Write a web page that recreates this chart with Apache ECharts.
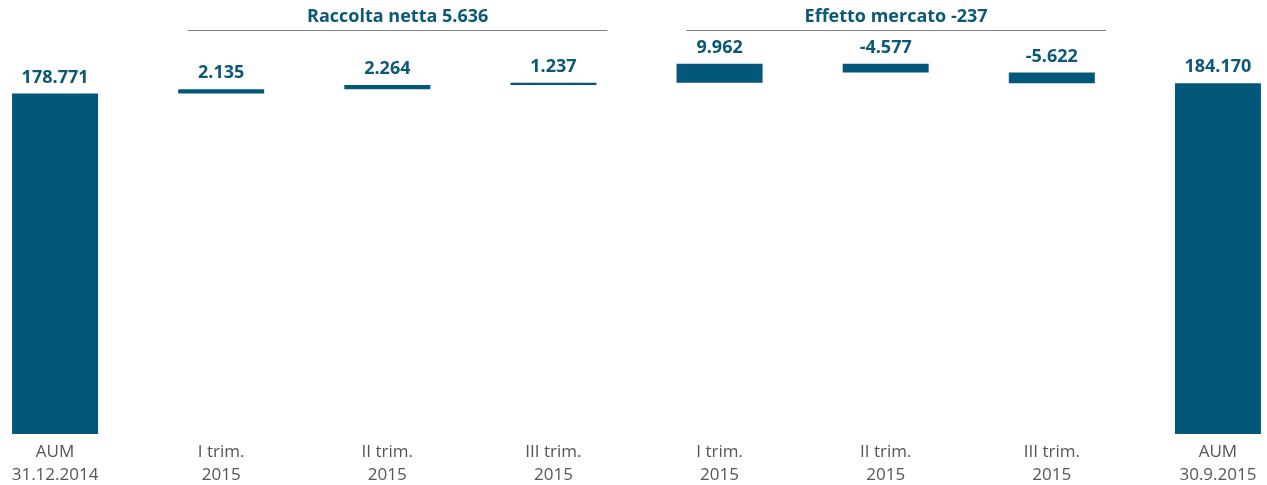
<!DOCTYPE html>
<html>
<head>
<meta charset="utf-8">
<script src="https://cdn.jsdelivr.net/npm/echarts@6/dist/echarts.min.js"></script>
<style>
  html, body { margin: 0; padding: 0; background: #ffffff; overflow: hidden; width: 1267px; height: 485px; }
  /* The outer category bands run slightly past the page edges */
  #chart { position: absolute; left: -28px; top: 0; width: 1329px; height: 485px; }
</style>
</head>
<body>
<div id="chart"></div>
<script>
// AUM bridge: opening stock, quarterly net inflows, quarterly market effect, closing stock
const categories = [
  'AUM\n31.12.2014',
  'I trim.\n2015', 'II trim.\n2015', 'III trim.\n2015',
  'I trim.\n2015', 'II trim.\n2015', 'III trim.\n2015',
  'AUM\n30.9.2015'
];
const aumStart = 178771;
const netInflows = [2135, 2264, 1237];
const marketEffect = [9962, -4577, -5622];
const aumEnd = 184170;
const groupTitles = ['Raccolta netta', 'Effetto mercato'];

const BLUE = '#03587a';
const LABEL_BLUE = '#0b5877';

// Italian number format: dot as thousands separator
function fmt(v) {
  const s = String(Math.abs(v)).replace(/\B(?=(\d{3})+(?!\d))/g, '.');
  return (v < 0 ? '-' : '') + s;
}

// Waterfall table: invisible base + visible segment for each step
const signed = [aumStart, ...netInflows, ...marketEffect, aumEnd];
const isTotal = signed.map((_, i) => i === 0 || i === signed.length - 1);
const base = [];
const visible = [];
let running = 0;
signed.forEach((v, i) => {
  if (isTotal[i]) {
    base.push(0);
    visible.push(v);
    running = v;
  } else if (v >= 0) {
    base.push(running);
    visible.push(v);
    running += v;
  } else {
    running += v;
    base.push(running);
    visible.push(-v);
  }
});

const sum = a => a.reduce((s, x) => s + x, 0);
const groups = [
  { title: groupTitles[0] + ' ' + fmt(sum(netInflows)), from: 1, to: 3 },
  { title: groupTitles[1] + ' ' + fmt(sum(marketEffect)), from: 4, to: 6 }
];

const chart = echarts.init(document.getElementById('chart'), null, { renderer: 'canvas' });

chart.setOption({
  animation: false,
  backgroundColor: '#ffffff',
  grid: { left: 0, right: 0, top: 53, bottom: 51, containLabel: false, outerBoundsMode: 'none' },
  xAxis: {
    type: 'category',
    data: categories,
    axisLine: { show: false },
    axisTick: { show: false },
    axisLabel: {
      interval: 0,
      margin: 7,
      color: '#555555',
      fontFamily: 'Open Sans',
      fontSize: 17,
      lineHeight: 23
    }
  },
  yAxis: {
    type: 'value',
    min: 0,
    max: 200000,
    show: false,
    splitLine: { show: false }
  },
  series: [
    {
      type: 'bar',
      stack: 'bridge',
      data: base,
      barWidth: 86,
      itemStyle: { color: 'rgba(0,0,0,0)' },
      silent: true
    },
    {
      type: 'bar',
      stack: 'bridge',
      data: visible,
      barWidth: 86,
      itemStyle: { color: BLUE },
      label: {
        show: true,
        position: 'top',
        distance: 7,
        color: LABEL_BLUE,
        fontFamily: 'Open Sans',
        fontWeight: 'bold',
        fontSize: 18,
        formatter: p => fmt(signed[p.dataIndex])
      }
    }
  ]
});

// Group headers with a rule underneath, anchored to the category positions
function drawHeaders() {
  const px = i => chart.convertToPixel({ xAxisIndex: 0 }, i);
  const band = px(1) - px(0);
  const elements = [];
  groups.forEach(g => {
    const x1 = px(g.from) - 0.2 * band;
    const x2 = px(g.to) + 0.325 * band;
    elements.push({
      type: 'line',
      shape: { x1: x1, y1: 30.5, x2: x2, y2: 30.5 },
      style: { stroke: '#7f7f7f', lineWidth: 1.2 },
      silent: true
    });
    elements.push({
      type: 'text',
      x: (x1 + x2) / 2,
      y: 17,
      style: {
        text: g.title,
        fill: LABEL_BLUE,
        font: 'bold 18px "Open Sans"',
        align: 'center',
        verticalAlign: 'middle'
      },
      silent: true
    });
  });
  chart.setOption({ graphic: elements });
}
drawHeaders();
</script>
</body>
</html>
